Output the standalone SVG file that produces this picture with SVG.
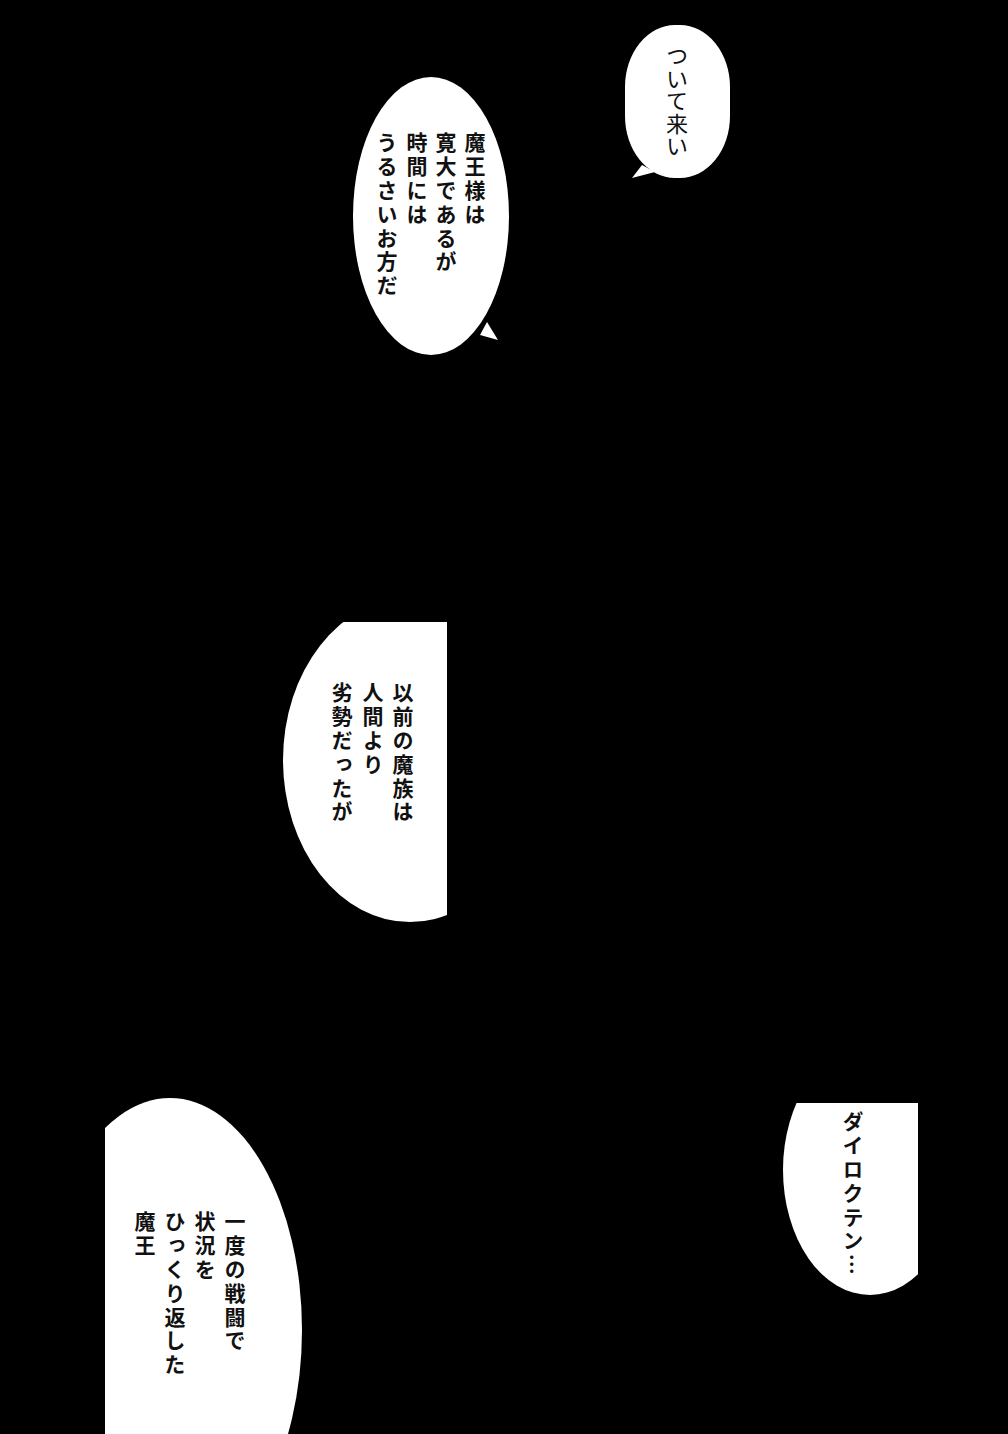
<svg xmlns="http://www.w3.org/2000/svg" width="1008" height="1434" viewBox="0 0 1008 1434">
<style>
.b{fill:#fff}
.t{font-family:"Noto Sans CJK JP","Noto Sans CJK SC",sans-serif;font-size:21px;fill:#111;writing-mode:vertical-rl;letter-spacing:2.8px;font-weight:700}
.m{font-weight:400;font-size:22px;letter-spacing:0.5px}
</style>
<defs>
<clipPath id="c3"><rect x="0" y="622" width="447" height="400"/></clipPath>
<clipPath id="c4"><rect x="700" y="1103" width="218" height="300"/></clipPath>
<clipPath id="c5"><rect x="105" y="1000" width="300" height="434"/></clipPath>
</defs>
<rect width="1008" height="1434" fill="#000"/>
<g id="bubble1">
<rect class="b" x="625" y="25" width="105" height="153" rx="50" ry="62"/>
<polygon class="b" points="642,165 632,178 655,172"/>
<text class="t m" x="677" y="45">ついて来い</text>
</g>
<g id="bubble2">
<ellipse class="b" cx="431" cy="216" rx="78" ry="139"/>
<polygon class="b" points="487,322 498,340 480,335"/>
<text class="t" x="475" y="132">魔王様は</text>
<text class="t" x="446" y="132">寛大であるが</text>
<text class="t" x="417" y="132">時間には</text>
<text class="t" x="387" y="132">うるさいお方だ</text>
</g>
<g id="bubble3">
<ellipse class="b" cx="410" cy="760" rx="127" ry="162" clip-path="url(#c3)"/>
<text class="t" x="403" y="682">以前の魔族は</text>
<text class="t" x="373" y="682">人間より</text>
<text class="t" x="342" y="682">劣勢だったが</text>
</g>
<g id="bubble4">
<ellipse class="b" cx="870" cy="1170" rx="87" ry="125" clip-path="url(#c4)"/>
<text class="t" x="853" y="1111">ダイロクテン…</text>
</g>
<g id="bubble5">
<ellipse class="b" cx="170" cy="1330" rx="132" ry="232" clip-path="url(#c5)"/>
<text class="t" x="235" y="1211">一度の戦闘で</text>
<text class="t" x="205" y="1211">状況を</text>
<text class="t" x="175" y="1211">ひっくり返した</text>
<text class="t" x="145" y="1211">魔王</text>
</g>
</svg>
